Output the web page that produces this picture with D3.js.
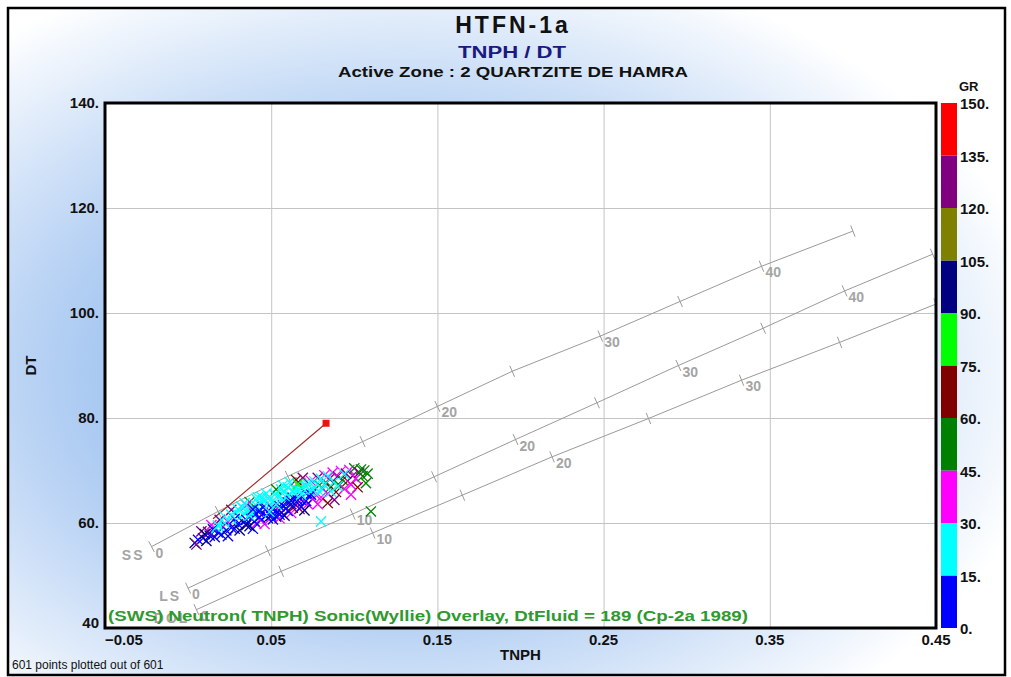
<!DOCTYPE html>
<html>
<head>
<meta charset="utf-8">
<script src="https://cdn.jsdelivr.net/npm/d3@7/dist/d3.min.js"></script>
<style>
  html, body { margin: 0; padding: 0; background: #fff; }
  svg { display: block; font-family: Arial, "Liberation Sans", sans-serif; }
</style>
</head>
<body>
<div id="chart"></div>
<script>
// ---- data ----
const xTicks = [-0.05, 0.05, 0.15, 0.25, 0.35, 0.45];
const yTicks = [40, 60, 80, 100, 120, 140];
const grBreaks = [0, 15, 30, 45, 60, 75, 90, 105, 120, 135, 150];
const grColors = ["#0000ff", "#00ffff", "#ff00ff", "#008000", "#800000",
                  "#00ff00", "#000080", "#808000", "#800080", "#ff0000"];

// Wyllie overlay lines (porosity ticks every 5 pu)
const ssTNPH  = [-0.022, 0.018, 0.060, 0.105, 0.150, 0.195, 0.248, 0.296, 0.345, 0.400];
const ssDT    = [55.5, 62.2, 68.9, 75.5, 82.2, 88.9, 95.6, 102.2, 108.9, 115.6];
const lsTNPH  = [0.000, 0.048, 0.099, 0.148, 0.197, 0.246, 0.295, 0.346, 0.395, 0.448];
const lsDT    = [47.6, 54.7, 61.7, 68.8, 75.9, 82.9, 90.0, 97.1, 104.2, 111.2];
const dolTNPH = [0.005, 0.056, 0.111, 0.165, 0.219, 0.277, 0.333, 0.392, 0.450];
const dolDT   = [43.5, 50.8, 58.1, 65.3, 72.6, 79.9, 87.2, 94.4, 101.7];
const porLabels = ["0", "", "10", "", "20", "", "30", "", "40", ""];

// red fluid line
const fluidTNPH = [0.015, 0.083];
const fluidDT = [60.8, 79.0];

// scatter points [TNPH, DT, GR]
const points = [
  [0.004,56.2,95],[0.006,56.8,8],[0.005,55.9,125],[0.009,57.1,6],[0.011,56.6,100],
  [0.013,57.6,10],[0.012,58.3,128],[0.016,57.3,9],[0.018,58.2,12],[0.017,59.0,20],
  [0.020,57.8,5],[0.021,59.4,25],[0.023,58.6,11],[0.024,60.2,35],[0.026,59.1,7],
  [0.019,60.6,130],[0.014,59.6,40],[0.008,58.4,122],[0.022,61.2,18],[0.027,60.4,22],
  [0.028,58.9,9],[0.030,59.8,13],[0.031,61.0,21],[0.033,60.2,4],[0.034,61.8,27],
  [0.035,59.6,92],[0.036,62.4,16],[0.038,60.8,11],[0.039,63.0,24],[0.040,61.6,8],
  [0.041,59.9,38],[0.042,62.2,14],[0.043,63.6,19],[0.044,60.6,6],[0.045,61.9,33],
  [0.046,64.2,23],[0.047,62.8,12],[0.048,60.9,98],[0.049,63.5,17],[0.050,61.4,9],
  [0.029,61.9,26],[0.032,63.1,29],[0.037,64.0,52],[0.039,58.9,13],[0.044,65.0,21],
  [0.026,62.5,124],[0.035,63.4,36],[0.041,64.6,18],[0.046,59.8,41],[0.048,64.7,26],
  [0.051,62.6,7],[0.052,64.0,16],[0.053,61.2,12],[0.054,65.2,22],[0.055,63.2,10],
  [0.056,62.0,30],[0.057,64.6,19],[0.058,66.0,28],[0.059,62.8,5],[0.060,63.9,14],
  [0.061,65.4,24],[0.062,61.9,40],[0.063,64.8,11],[0.064,66.5,17],[0.065,63.4,37],
  [0.066,65.1,8],[0.067,62.7,126],[0.068,66.8,25],[0.069,64.1,13],[0.070,67.4,20],
  [0.071,65.6,6],[0.072,63.6,44],[0.073,66.2,15],[0.074,68.0,31],[0.075,64.6,9],
  [0.053,66.4,48],[0.057,67.2,27],[0.061,67.8,23],[0.065,68.2,62],[0.069,68.6,131],
  [0.055,60.9,35],[0.063,62.9,70],[0.070,62.4,95],[0.058,61.4,102],[0.066,67.4,83],
  [0.076,66.8,28],[0.077,65.3,38],[0.078,68.6,126],[0.079,67.2,52],[0.080,64.9,34],
  [0.081,66.4,19],[0.082,69.1,40],[0.083,67.6,64],[0.084,65.6,33],[0.085,68.4,128],
  [0.086,66.9,50],[0.087,69.6,37],[0.088,67.9,22],[0.089,65.9,66],[0.090,68.9,132],
  [0.091,67.2,47],[0.092,69.9,42],[0.093,68.2,57],[0.094,66.5,35],[0.095,69.4,121],
  [0.080,60.3,24],[0.084,63.8,70],[0.078,63.6,36],[0.088,64.4,125],
  [0.096,68.0,68],[0.097,70.1,35],[0.098,67.3,44],[0.099,69.0,124],[0.100,70.4,52],
  [0.101,68.5,37],[0.102,66.8,65],[0.103,69.6,130],[0.104,70.2,50],[0.105,68.9,47],
  [0.106,70.0,55],[0.108,69.4,58],[0.107,67.6,51],[0.110,62.2,54],[0.098,65.4,33],
  [0.040,60.3,3],[0.043,61.1,7],[0.047,61.4,2],[0.050,62.9,11],[0.054,62.1,4],
  [0.057,63.3,9],[0.060,62.3,6],[0.062,63.6,3],[0.066,64.3,12],[0.068,63.1,8],
  [0.071,64.2,2],[0.074,65.4,10],[0.035,60.6,5],[0.037,59.4,92],[0.031,58.6,100],
  [0.024,57.5,3],[0.028,60.8,14],[0.015,58.8,6],[0.010,57.9,104],[0.045,63.0,10],
  [0.030,62.6,20],[0.034,63.8,18],[0.038,62.0,23],[0.042,64.9,26],[0.048,63.9,21],
  [0.052,65.4,17],[0.056,66.4,19],[0.060,66.8,29],[0.064,65.8,22],[0.068,65.4,16],
  [0.072,67.4,25],[0.076,67.9,18],[0.080,68.4,22],[0.084,68.9,27],[0.086,66.0,17],
  [0.090,67.0,28],[0.094,69.3,20],[0.026,61.6,25],[0.022,60.0,19],[0.018,59.5,28],
  [0.033,62.9,17],[0.037,61.4,22],[0.041,63.3,16],[0.045,64.4,24],[0.049,62.1,19],
  [0.053,63.5,21],[0.059,64.9,18],[0.063,66.0,26],[0.067,66.2,20],[0.071,66.9,23],
  [0.075,66.4,17],[0.079,66.0,25],[0.082,67.3,21],[0.047,65.6,27],[0.039,62.6,5],
  [0.051,60.7,8],[0.055,61.6,3],[0.043,62.3,6],[0.062,64.2,1]
];

// ---- layout ----
var W = 1011, H = 677;
var plot = {left: 105, right: 936, top: 103, bottom: 628};

var svg = d3.select("#chart").append("svg")
  .attr("width", W).attr("height", H);

var defs = svg.append("defs");
var bg = defs.append("radialGradient").attr("id", "bgGrad")
  .attr("cx", "40%").attr("cy", "55%").attr("r", "65%");
bg.append("stop").attr("offset", "0%").attr("stop-color", "#6fa6ea");
bg.append("stop").attr("offset", "55%").attr("stop-color", "#b3cff3");
bg.append("stop").attr("offset", "100%").attr("stop-color", "#ffffff");

defs.append("clipPath").attr("id", "plotClip")
  .append("rect")
  .attr("x", plot.left).attr("y", plot.top)
  .attr("width", plot.right - plot.left).attr("height", plot.bottom - plot.top);

// outer frame
svg.append("rect")
  .attr("x", 8).attr("y", 8).attr("width", 997).attr("height", 667)
  .attr("fill", "url(#bgGrad)")
  .attr("stroke", "#000").attr("stroke-width", 2.5);

var x = d3.scaleLinear().domain([-0.05, 0.45]).range([plot.left, plot.right]);
var y = d3.scaleLinear().domain([40, 140]).range([plot.bottom, plot.top]);

// plot background
svg.append("rect")
  .attr("x", plot.left).attr("y", plot.top)
  .attr("width", plot.right - plot.left).attr("height", plot.bottom - plot.top)
  .attr("fill", "#fff");

// grid
svg.append("g")
  .attr("transform", "translate(0," + plot.bottom + ")")
  .call(d3.axisBottom(x).tickValues(xTicks.slice(1, -1))
    .tickSize(-(plot.bottom - plot.top)).tickFormat(""))
  .call(g => g.select(".domain").remove())
  .call(g => g.selectAll(".tick line").attr("stroke", "#c4c4c4"));
svg.append("g")
  .attr("transform", "translate(" + plot.left + ",0)")
  .call(d3.axisLeft(y).tickValues(yTicks.slice(1, -1))
    .tickSize(-(plot.right - plot.left)).tickFormat(""))
  .call(g => g.select(".domain").remove())
  .call(g => g.selectAll(".tick line").attr("stroke", "#c4c4c4"));

var inner = svg.append("g").attr("clip-path", "url(#plotClip)");

// overlay lines
var lithos = [
  {name: "SS", tnph: ssTNPH, dt: ssDT},
  {name: "LS", tnph: lsTNPH, dt: lsDT},
  {name: "DOL", tnph: dolTNPH, dt: dolDT}
];
var lineGen = d3.line().x(d => x(d[0])).y(d => y(d[1]));
var gray = "#9a9a9a";

lithos.forEach(function(l) {
  var pts = l.tnph.map((t, i) => [t, l.dt[i]]);
  inner.append("path").datum(pts)
    .attr("d", lineGen)
    .attr("fill", "none").attr("stroke", gray).attr("stroke-width", 1);

  // perpendicular ticks
  pts.forEach(function(p, i) {
    var a = pts[Math.max(0, i - 1)], b = pts[Math.min(pts.length - 1, i + 1)];
    var dx = x(b[0]) - x(a[0]), dy = y(b[1]) - y(a[1]);
    var len = Math.sqrt(dx * dx + dy * dy);
    var nx = -dy / len * 6, ny = dx / len * 6;
    var px = x(p[0]), py = y(p[1]);
    inner.append("line")
      .attr("x1", px - nx).attr("y1", py - ny)
      .attr("x2", px + nx).attr("y2", py + ny)
      .attr("stroke", gray).attr("stroke-width", 1);
    if (porLabels[i]) {
      inner.append("text")
        .attr("x", px + 4).attr("y", py + 11)
        .attr("fill", "#a4a4a4").attr("font-size", "14px").attr("font-weight", "bold")
        .text(porLabels[i]);
    }
  });
  inner.append("text")
    .attr("x", x(pts[0][0]) - 7).attr("y", y(pts[0][1]) + 13)
    .attr("text-anchor", "end")
    .attr("fill", "#a4a4a4").attr("font-size", "14px").attr("font-weight", "bold")
    .attr("letter-spacing", "2px")
    .text(l.name);
});

// red fluid line
inner.append("line")
  .attr("x1", x(fluidTNPH[0])).attr("y1", y(fluidDT[0]))
  .attr("x2", x(fluidTNPH[1])).attr("y2", y(fluidDT[1]))
  .attr("stroke", "#a52a2a").attr("stroke-width", 1.2);

// scatter
var grColor = d3.scaleThreshold().domain(grBreaks.slice(1, -1)).range(grColors);
inner.selectAll("path.pt")
  .data(points)
  .enter().append("path")
  .attr("class", "pt")
  .attr("d", d3.symbol(d3.symbolX, 70))
  .attr("transform", d => "translate(" + x(d[0]) + "," + y(d[1]) + ")")
  .attr("fill", "none")
  .attr("stroke", d => grColor(d[2]))
  .attr("stroke-width", 1.3);

inner.append("rect")
  .attr("x", x(fluidTNPH[1]) - 3.5).attr("y", y(fluidDT[1]) - 3.5)
  .attr("width", 7).attr("height", 7).attr("fill", "#ee1111");

// footnote inside plot
svg.append("text")
  .attr("x", plot.left + 3).attr("y", plot.bottom - 7)
  .attr("fill", "#2e9a2e").attr("font-size", "14px").attr("font-weight", "bold")
  .attr("textLength", 640).attr("lengthAdjust", "spacingAndGlyphs")
  .text("(SWS) Neutron( TNPH) Sonic(Wyllie) Overlay, DtFluid = 189 (Cp-2a 1989)");

// plot border
svg.append("rect")
  .attr("x", plot.left).attr("y", plot.top)
  .attr("width", plot.right - plot.left).attr("height", plot.bottom - plot.top)
  .attr("fill", "none").attr("stroke", "#000").attr("stroke-width", 3);

// axis labels
svg.append("g").selectAll("text")
  .data(xTicks).enter().append("text")
  .attr("x", d => x(d))
  .attr("y", plot.bottom + 17)
  .attr("text-anchor", (d, i) => i === 0 ? "start" : "middle")
  .attr("font-size", "15px").attr("font-weight", "bold").attr("fill", "#111")
  .text(d => d3.format(".2f")(d));
svg.append("g").selectAll("text")
  .data(yTicks).enter().append("text")
  .attr("x", plot.left - 6)
  .attr("y", d => d === 40 ? y(d) : y(d) + 5)
  .attr("text-anchor", "end")
  .attr("font-size", "15px").attr("font-weight", "bold").attr("fill", "#111")
  .text(d => d === 40 ? "40" : d + ".");

svg.append("text")
  .attr("x", (plot.left + plot.right) / 2).attr("y", plot.bottom + 32)
  .attr("text-anchor", "middle")
  .attr("font-size", "15px").attr("font-weight", "bold").attr("fill", "#111")
  .text("TNPH");
svg.append("text")
  .attr("transform", "translate(36," + ((plot.top + plot.bottom) / 2) + ") rotate(-90)")
  .attr("text-anchor", "middle")
  .attr("font-size", "15px").attr("font-weight", "bold").attr("fill", "#111")
  .text("DT");

// titles
svg.append("text")
  .attr("x", 513).attr("y", 33).attr("text-anchor", "middle")
  .attr("font-size", "23px").attr("font-weight", "bold").attr("fill", "#111")
  .attr("letter-spacing", "3px")
  .text("HTFN-1a");
svg.append("text")
  .attr("x", 512).attr("y", 58).attr("text-anchor", "middle")
  .attr("font-size", "16px").attr("font-weight", "bold").attr("fill", "#1a1a80")
  .attr("textLength", 108).attr("lengthAdjust", "spacingAndGlyphs")
  .text("TNPH / DT");
svg.append("text")
  .attr("x", 513).attr("y", 77).attr("text-anchor", "middle")
  .attr("font-size", "15px").attr("font-weight", "bold").attr("fill", "#111")
  .attr("textLength", 350).attr("lengthAdjust", "spacingAndGlyphs")
  .text("Active Zone : 2  QUARTZITE DE HAMRA");

svg.append("text")
  .attr("x", 12).attr("y", 669)
  .attr("font-size", "12px").attr("fill", "#111")
  .text("601 points plotted out of 601");

// colour bar
var cb = d3.scaleLinear().domain([0, 150]).range([plot.bottom, plot.top]);
var cbX = 941, cbW = 16;
svg.append("g").selectAll("rect")
  .data(grColors).enter().append("rect")
  .attr("x", cbX).attr("width", cbW)
  .attr("y", (d, i) => cb(grBreaks[i + 1]))
  .attr("height", (d, i) => cb(grBreaks[i]) - cb(grBreaks[i + 1]))
  .attr("fill", d => d);
svg.append("g").selectAll("text")
  .data(grBreaks).enter().append("text")
  .attr("x", cbX + cbW + 3).attr("y", d => cb(d) + 6)
  .attr("font-size", "15px").attr("font-weight", "bold").attr("fill", "#111")
  .text(d => d + ".");
svg.append("text")
  .attr("x", cbX + cbW + 2).attr("y", plot.top - 12)
  .attr("font-size", "13px").attr("font-weight", "bold").attr("fill", "#111")
  .text("GR");
</script>
</body>
</html>
